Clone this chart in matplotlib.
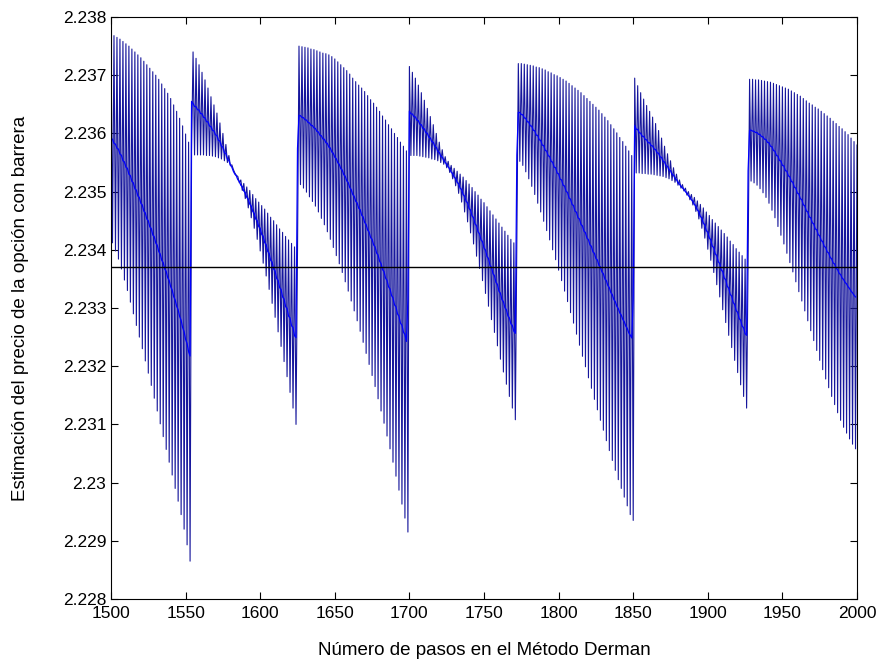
import matplotlib.pyplot as plt
import numpy as np
from matplotlib.ticker import FormatStrFormatter

plt.rcParams['font.family'] = ['Liberation Sans', 'DejaVu Sans']

# Precio de referencia (linea horizontal)
precio_ref = 2.23371

# Tramos entre saltos: (primer paso, ultimo paso)
tramos = [(1500, 1554), (1555, 1625), (1626, 1699), (1700, 1772),
          (1773, 1850), (1851, 1927), (1928, 2000)]

# En cada tramo el precio oscila: pasos pares del tramo -> envolvente
# superior (sup), impares -> envolvente inferior (inf)
sup1 = [2.23770, 2.23768, 2.23765, 2.23762, 2.23758, 2.23754, 2.23750, 2.23745, 2.23740, 2.23735,
        2.23730, 2.23724, 2.23718, 2.23712, 2.23706, 2.23700, 2.23693, 2.23685, 2.23677, 2.23669,
        2.23660, 2.23649, 2.23638, 2.23626, 2.23613, 2.23599, 2.23585, 2.23570]
inf1 = [2.23412, 2.23398, 2.23384, 2.23367, 2.23348, 2.23330, 2.23310, 2.23290, 2.23270, 2.23250,
        2.23230, 2.23209, 2.23188, 2.23167, 2.23145, 2.23123, 2.23101, 2.23079, 2.23057, 2.23035,
        2.23013, 2.22990, 2.22968, 2.22945, 2.22920, 2.22893, 2.22865]

sup2 = [2.23740, 2.23729, 2.23718, 2.23705, 2.23692, 2.23678, 2.23663, 2.23649, 2.23635, 2.23618,
        2.23600, 2.23581, 2.23562, 2.23546, 2.23532, 2.23526, 2.23520, 2.23514, 2.23508, 2.23502,
        2.23495, 2.23488, 2.23482, 2.23476, 2.23470, 2.23463, 2.23456, 2.23450, 2.23443, 2.23436,
        2.23430, 2.23423, 2.23417, 2.23411, 2.23405, 2.23398]
inf2 = [2.23563, 2.23563, 2.23563, 2.23563, 2.23562, 2.23562, 2.23561, 2.23560, 2.23558, 2.23556,
        2.23553, 2.23550, 2.23545, 2.23538, 2.23528, 2.23515, 2.23502, 2.23488, 2.23472, 2.23455,
        2.23437, 2.23418, 2.23398, 2.23377, 2.23355, 2.23332, 2.23308, 2.23284, 2.23259, 2.23234,
        2.23208, 2.23182, 2.23155, 2.23128, 2.23100]

sup3 = [2.23750, 2.23749, 2.23748, 2.23747, 2.23745, 2.23744, 2.23742, 2.23740, 2.23738, 2.23737,
        2.23735, 2.23732, 2.23728, 2.23723, 2.23718, 2.23713, 2.23708, 2.23702, 2.23695, 2.23689,
        2.23683, 2.23678, 2.23672, 2.23665, 2.23658, 2.23652, 2.23645, 2.23638, 2.23630, 2.23623,
        2.23615, 2.23608, 2.23600, 2.23593, 2.23585, 2.23578, 2.23570]
inf3 = [2.23512, 2.23506, 2.23499, 2.23491, 2.23483, 2.23475, 2.23465, 2.23454, 2.23443, 2.23431,
        2.23418, 2.23404, 2.23390, 2.23376, 2.23361, 2.23345, 2.23329, 2.23312, 2.23295, 2.23278,
        2.23260, 2.23241, 2.23222, 2.23203, 2.23184, 2.23165, 2.23144, 2.23123, 2.23102, 2.23080,
        2.23058, 2.23035, 2.23011, 2.22987, 2.22963, 2.22939, 2.22915]

sup4 = [2.23715, 2.23705, 2.23695, 2.23683, 2.23670, 2.23657, 2.23643, 2.23629, 2.23615, 2.23600,
        2.23585, 2.23572, 2.23560, 2.23552, 2.23545, 2.23540, 2.23535, 2.23530, 2.23525, 2.23519,
        2.23513, 2.23507, 2.23500, 2.23494, 2.23487, 2.23481, 2.23474, 2.23467, 2.23460, 2.23453,
        2.23446, 2.23439, 2.23432, 2.23425, 2.23418, 2.23412, 2.23405]
inf4 = [2.23562, 2.23562, 2.23562, 2.23561, 2.23560, 2.23559, 2.23558, 2.23556, 2.23555, 2.23553,
        2.23550, 2.23547, 2.23541, 2.23533, 2.23522, 2.23510, 2.23497, 2.23482, 2.23465, 2.23448,
        2.23429, 2.23410, 2.23389, 2.23368, 2.23347, 2.23325, 2.23303, 2.23280, 2.23258, 2.23235,
        2.23212, 2.23190, 2.23169, 2.23148, 2.23128, 2.23108]

sup5 = [2.23720, 2.23720, 2.23719, 2.23718, 2.23717, 2.23716, 2.23714, 2.23713, 2.23711, 2.23709,
        2.23706, 2.23704, 2.23701, 2.23699, 2.23696, 2.23693, 2.23690, 2.23686, 2.23682, 2.23678,
        2.23674, 2.23670, 2.23665, 2.23660, 2.23655, 2.23650, 2.23645, 2.23640, 2.23634, 2.23628,
        2.23622, 2.23615, 2.23608, 2.23601, 2.23593, 2.23586, 2.23578, 2.23570, 2.23562]
inf5 = [2.23552, 2.23545, 2.23534, 2.23522, 2.23509, 2.23495, 2.23480, 2.23465, 2.23449, 2.23433,
        2.23417, 2.23400, 2.23383, 2.23365, 2.23347, 2.23329, 2.23311, 2.23292, 2.23274, 2.23255,
        2.23236, 2.23217, 2.23199, 2.23180, 2.23162, 2.23143, 2.23125, 2.23107, 2.23090, 2.23072,
        2.23055, 2.23038, 2.23021, 2.23005, 2.22990, 2.22975, 2.22960, 2.22945, 2.22935]

sup6 = [2.23695, 2.23682, 2.23670, 2.23659, 2.23648, 2.23638, 2.23628, 2.23617, 2.23605, 2.23592,
        2.23578, 2.23565, 2.23553, 2.23541, 2.23530, 2.23520, 2.23512, 2.23506, 2.23500, 2.23495,
        2.23490, 2.23484, 2.23478, 2.23472, 2.23465, 2.23459, 2.23452, 2.23446, 2.23440, 2.23434,
        2.23428, 2.23422, 2.23415, 2.23409, 2.23402, 2.23396, 2.23390, 2.23384, 2.23378]
inf6 = [2.23532, 2.23532, 2.23531, 2.23531, 2.23530, 2.23530, 2.23529, 2.23528, 2.23527, 2.23526,
        2.23524, 2.23522, 2.23519, 2.23516, 2.23511, 2.23506, 2.23501, 2.23494, 2.23486, 2.23477,
        2.23466, 2.23453, 2.23437, 2.23420, 2.23401, 2.23382, 2.23361, 2.23340, 2.23319, 2.23297,
        2.23275, 2.23253, 2.23232, 2.23210, 2.23189, 2.23168, 2.23148, 2.23128]

sup7 = [2.23693, 2.23693, 2.23692, 2.23692, 2.23691, 2.23690, 2.23689, 2.23688, 2.23686, 2.23684,
        2.23682, 2.23680, 2.23678, 2.23676, 2.23673, 2.23670, 2.23667, 2.23664, 2.23660, 2.23656,
        2.23652, 2.23649, 2.23645, 2.23642, 2.23638, 2.23634, 2.23630, 2.23626, 2.23621, 2.23617,
        2.23612, 2.23608, 2.23603, 2.23598, 2.23592, 2.23586, 2.23580]
inf7 = [2.23518, 2.23515, 2.23511, 2.23505, 2.23498, 2.23490, 2.23480, 2.23468, 2.23455, 2.23440,
        2.23425, 2.23410, 2.23394, 2.23378, 2.23362, 2.23345, 2.23328, 2.23312, 2.23295, 2.23278,
        2.23261, 2.23244, 2.23227, 2.23210, 2.23194, 2.23178, 2.23163, 2.23148, 2.23134, 2.23120,
        2.23107, 2.23095, 2.23085, 2.23075, 2.23066, 2.23058]

envolventes = [(sup1, inf1), (sup2, inf2), (sup3, inf3), (sup4, inf4),
               (sup5, inf5), (sup6, inf6), (sup7, inf7)]

pasos = []
precio = []
for (ini, fin), (sup, inf) in zip(tramos, envolventes):
    for k in range(fin - ini + 1):
        pasos.append(ini + k)
        precio.append(sup[k // 2] if k % 2 == 0 else inf[k // 2])

pasos = np.array(pasos)
precio = np.array(precio)
# media de dos pasos consecutivos
media = (precio[:-1] + precio[1:]) / 2

fig = plt.figure(figsize=(8.93, 6.70), dpi=100)
ax = fig.add_axes([0.1243, 0.1060, 0.8354, 0.8686])

ax.plot(pasos, precio, color='#16169c', lw=0.8)
ax.plot(pasos[:-1], media, color='#0000ff', lw=0.9)
ax.axhline(precio_ref, color='black', lw=1.0)

ax.set_xlim(1500, 2000)
ax.set_ylim(2.228, 2.238)
ax.set_xticks(np.arange(1500, 2001, 50))
ax.set_yticks(np.arange(2.228, 2.2385, 0.001))
ax.yaxis.set_major_formatter(FormatStrFormatter('%g'))
ax.tick_params(direction='in', top=True, right=True, length=5,
               labelsize=12.5, width=0.8)
ax.tick_params(axis='x', pad=5)
for s in ax.spines.values():
    s.set_linewidth(0.8)

ax.set_xlabel('Número de pasos en el Método Derman', fontsize=13.5, labelpad=15)
ax.set_ylabel('Estimación del precio de la opción con barrera', fontsize=13.5, labelpad=24)

fig.savefig('out.png', dpi=100)
